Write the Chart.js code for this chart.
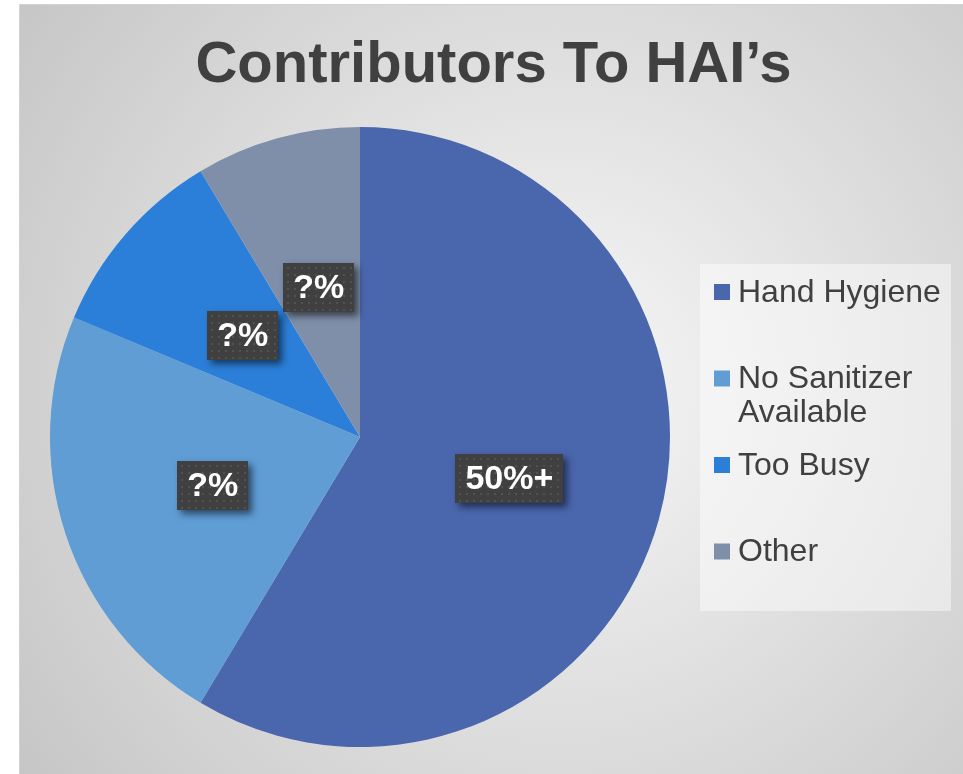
<!DOCTYPE html>
<html>
<head>
<meta charset="utf-8">
<script src="https://cdn.jsdelivr.net/npm/chart.js@4.4.1/dist/chart.umd.min.js"></script>
<style>
body { margin: 0; background: #fff; }
#wrap { position: absolute; left: 19px; top: 4px; border-top: 1px solid #d2d2d2; border-left: 1px solid #d2d2d2; }
canvas { display: block; }
</style>
</head>
<body>
<div id="wrap"><canvas id="myChart" width="943" height="769"></canvas></div>
<script>
// datos
var titulo = 'Contributors To HAI\u2019s'
var categorias = ['Hand Hygiene', ['No Sanitizer', 'Available'], 'Too Busy', 'Other']
var porcentajes = [58.6, 22.7, 10.1, 8.6]
var etiquetas = ['50%+', '?%', '?%', '?%']
var colores = ['#4a66ad', '#5f9dd4', '#2b7fd8', '#7f8fa9']

var fuente = '"Liberation Sans", Arial, sans-serif'

// fondo gris con degradado radial
const fondo = {
    id: 'fondo',
    beforeDraw(chart) {
        const ctx = chart.ctx
        const g = ctx.createRadialGradient(540, 380, 0, 540, 380, 690)
        g.addColorStop(0, '#f7f7f7')
        g.addColorStop(1, '#c4c4c4')
        ctx.save()
        ctx.fillStyle = g
        ctx.fillRect(0, 0, chart.width, chart.height)
        // titulo centrado en todo el ancho
        ctx.fillStyle = '#404040'
        ctx.font = 'bold 58px ' + fuente
        ctx.textAlign = 'center'
        ctx.textBaseline = 'alphabetic'
        ctx.fillText(titulo, chart.width / 2 + 2, 77)
        ctx.restore()
    }
}

// cajas oscuras con las etiquetas
const cajas = {
    id: 'cajas',
    afterDatasetsDraw(chart) {
        const ctx = chart.ctx
        const arcos = chart.getDatasetMeta(0).data
        ctx.save()
        ctx.font = 'bold 34px ' + fuente
        for (var i = 0; i < arcos.length; i++) {
            var p = arcos[i].tooltipPosition()
            var txt = etiquetas[i]
            var w = Math.round(ctx.measureText(txt).width + 20)
            var h = 49
            var bx = Math.round(p.x - w / 2)
            var by = Math.round(p.y - h / 2)
            ctx.save()
            ctx.shadowColor = 'rgba(0,0,0,0.55)'
            ctx.shadowBlur = 7
            ctx.shadowOffsetX = 4
            ctx.shadowOffsetY = 4
            ctx.fillStyle = '#404040'
            ctx.fillRect(bx, by, w, h)
            ctx.restore()
            ctx.fillStyle = '#525252'
            for (var dx = 4; dx < w - 1; dx += 7) {
                for (var dy = 4; dy < h - 1; dy += 7) {
                    ctx.fillRect(bx + dx, by + dy, 2, 2)
                }
            }
            ctx.fillStyle = '#ffffff'
            ctx.textAlign = 'center'
            ctx.textBaseline = 'middle'
            ctx.fillText(txt, p.x, p.y + 1)
        }
        ctx.restore()
    }
}

// leyenda a la derecha
const leyenda = {
    id: 'leyenda',
    afterDraw(chart) {
        const ctx = chart.ctx
        ctx.save()
        ctx.fillStyle = 'rgba(255,255,255,0.45)'
        ctx.fillRect(680, 259, 251, 347)
        ctx.font = '32px ' + fuente
        ctx.textBaseline = 'middle'
        ctx.textAlign = 'left'
        var y = 287
        for (var i = 0; i < categorias.length; i++) {
            ctx.fillStyle = colores[i]
            ctx.fillRect(694, y - 8, 16, 16)
            ctx.fillStyle = '#404040'
            var lineas = Array.isArray(categorias[i]) ? categorias[i] : [categorias[i]]
            for (var j = 0; j < lineas.length; j++) {
                ctx.fillText(lineas[j], 718, y + 1 + j * 34)
            }
            y += 86.5
        }
        ctx.restore()
    }
}

const datos = {
    labels: categorias,
    datasets: [{
        data: porcentajes,
        backgroundColor: colores,
        borderWidth: 0,
    }]
}

const config = {
    type: 'pie',
    data: datos,
    options: {
        responsive: false,
        animation: false,
        layout: { padding: { left: 30, right: 293, top: 122, bottom: 27 } },
        plugins: {
            legend: { display: false },
            tooltip: { enabled: false },
            title: { display: false }
        }
    },
    plugins: [fondo, cajas, leyenda]
}

const myChart = new Chart(document.getElementById('myChart'), config)
</script>
</body>
</html>
